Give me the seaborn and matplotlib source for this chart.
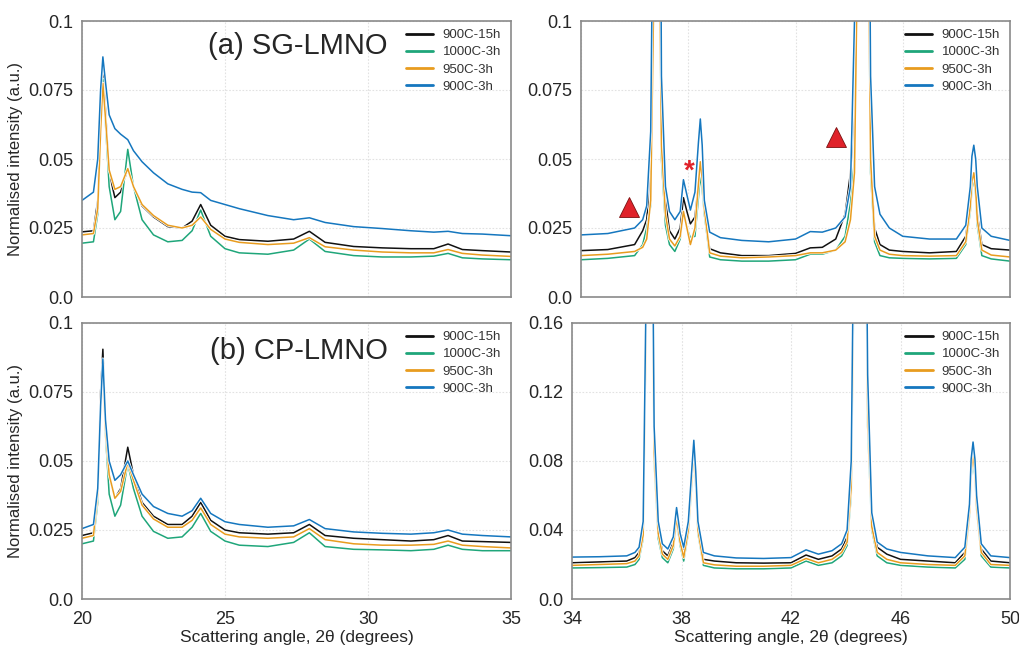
import numpy as np
import pandas as pd
import matplotlib
matplotlib.use("Agg")
import matplotlib.pyplot as plt
import matplotlib.patheffects as pe
import seaborn as sns

# ---------------- data ----------------
series = ["900C-15h", "1000C-3h", "950C-3h", "900C-3h"]
colors = {"900C-15h": "#111111", "1000C-3h": "#1fa67a",
          "950C-3h": "#e89c1f", "900C-3h": "#1577bf"}

x_left = [20.0, 20.4, 20.55, 20.65, 20.73, 20.82, 20.95, 21.15, 21.35, 21.6, 21.8, 22.1,
          22.5, 23.0, 23.5, 23.85, 24.15, 24.5, 25.0, 25.5, 26.5, 27.4, 27.95, 28.5,
          29.5, 30.5, 31.5, 32.3, 32.8, 33.3, 34.0, 35.0]

sg_left_900_15 = [0.0236, 0.024, 0.035, 0.065, 0.085, 0.068, 0.045, 0.036, 0.038, 0.0465, 0.040, 0.033,
                  0.029, 0.0255, 0.025, 0.0275, 0.0335, 0.026, 0.022, 0.0208, 0.0202, 0.021, 0.0238, 0.0198,
                  0.0183, 0.0178, 0.0175, 0.0175, 0.0192, 0.0172, 0.0168, 0.0163]
sg_left_1000_3 = [0.0195, 0.020, 0.030, 0.060, 0.079, 0.063, 0.040, 0.028, 0.031, 0.0535, 0.040, 0.028,
                  0.0225, 0.020, 0.0205, 0.024, 0.0315, 0.022, 0.0175, 0.016, 0.0155, 0.017, 0.021, 0.0165,
                  0.015, 0.0145, 0.0145, 0.0148, 0.0158, 0.0142, 0.0138, 0.0135]
sg_left_950_3 = [0.0225, 0.023, 0.032, 0.060, 0.0775, 0.065, 0.046, 0.039, 0.040, 0.0465, 0.040, 0.0335,
                 0.0295, 0.026, 0.025, 0.026, 0.029, 0.0245, 0.021, 0.0198, 0.019, 0.0195, 0.0215, 0.0182,
                 0.017, 0.0163, 0.016, 0.016, 0.0172, 0.0158, 0.0152, 0.0147]
sg_left_900_3 = [0.035, 0.038, 0.050, 0.075, 0.087, 0.078, 0.066, 0.061, 0.059, 0.057, 0.053, 0.049,
                 0.045, 0.041, 0.039, 0.038, 0.0378, 0.035, 0.0335, 0.032, 0.0295, 0.028, 0.0287, 0.027,
                 0.0255, 0.0248, 0.024, 0.0235, 0.0238, 0.023, 0.0228, 0.0222]

cp_left_900_15 = [0.023, 0.024, 0.040, 0.075, 0.0905, 0.065, 0.045, 0.0365, 0.040, 0.055, 0.045, 0.035,
                  0.030, 0.027, 0.027, 0.030, 0.035, 0.0285, 0.025, 0.024, 0.0235, 0.024, 0.027, 0.023,
                  0.022, 0.0215, 0.021, 0.0215, 0.023, 0.021, 0.0208, 0.0205]
cp_left_1000_3 = [0.020, 0.021, 0.035, 0.070, 0.085, 0.060, 0.038, 0.030, 0.034, 0.049, 0.040, 0.030,
                  0.0245, 0.022, 0.0225, 0.026, 0.031, 0.0245, 0.021, 0.0195, 0.019, 0.0205, 0.024, 0.019,
                  0.018, 0.0178, 0.0175, 0.018, 0.0195, 0.018, 0.0175, 0.0175]
cp_left_950_3 = [0.022, 0.023, 0.038, 0.068, 0.082, 0.062, 0.045, 0.0365, 0.039, 0.0495, 0.043, 0.034,
                 0.029, 0.026, 0.026, 0.0285, 0.033, 0.027, 0.0235, 0.0225, 0.022, 0.0225, 0.0255, 0.0215,
                 0.020, 0.0195, 0.0195, 0.0198, 0.021, 0.0195, 0.019, 0.0185]
cp_left_900_3 = [0.0255, 0.027, 0.040, 0.070, 0.087, 0.065, 0.050, 0.043, 0.045, 0.050, 0.045, 0.038,
                 0.0335, 0.031, 0.030, 0.032, 0.0365, 0.031, 0.028, 0.027, 0.026, 0.0265, 0.0288, 0.0255,
                 0.0243, 0.0238, 0.0235, 0.024, 0.025, 0.0235, 0.023, 0.0225]

x_right = [34.0, 35.0, 36.0, 36.3, 36.45, 36.6, 36.7, 36.8, 36.9, 37.0, 37.15, 37.3,
           37.5, 37.7, 37.82, 37.95, 38.08, 38.25, 38.38, 38.45, 38.52, 38.6, 38.8, 39.2, 40.0, 41.0,
           42.0, 42.55, 43.0, 43.5, 43.85, 44.05, 44.2, 44.35, 44.5, 44.65, 44.8, 44.95,
           45.15, 45.5, 46.0, 47.0, 48.0, 48.35, 48.52, 48.58, 48.65, 48.72, 48.78, 48.95, 49.3, 50.0]

sg_right_900_15 = [0.0168, 0.0172, 0.019, 0.024, 0.028, 0.045, 0.11, 0.5, 0.2, 0.065, 0.035, 0.024,
                   0.021, 0.025, 0.036, 0.031, 0.0265, 0.029, 0.041, 0.047, 0.041, 0.030, 0.0175, 0.016, 0.015, 0.015,
                   0.0158, 0.0178, 0.018, 0.021, 0.030, 0.045, 0.065, 0.2, 0.5, 0.2, 0.05, 0.025,
                   0.019, 0.017, 0.0165, 0.016, 0.0165, 0.022, 0.034, 0.041, 0.044, 0.039, 0.030, 0.019, 0.0175, 0.017]
sg_right_1000_3 = [0.0135, 0.014, 0.015, 0.019, 0.025, 0.033, 0.10, 0.5, 0.15, 0.05, 0.026, 0.019,
                   0.0165, 0.021, 0.031, 0.025, 0.0215, 0.022, 0.036, 0.044, 0.039, 0.030, 0.0145, 0.0135, 0.013, 0.013,
                   0.0135, 0.0155, 0.0155, 0.017, 0.022, 0.034, 0.05, 0.18, 0.5, 0.2, 0.045, 0.020,
                   0.015, 0.0142, 0.014, 0.0138, 0.014, 0.019, 0.031, 0.039, 0.043, 0.037, 0.026, 0.015, 0.0138, 0.013]
sg_right_950_3 = [0.015, 0.0155, 0.0165, 0.018, 0.021, 0.035, 0.10, 0.5, 0.15, 0.055, 0.030, 0.021,
                  0.0185, 0.022, 0.031, 0.025, 0.019, 0.025, 0.041, 0.049, 0.043, 0.032, 0.016, 0.0148, 0.0142, 0.0145,
                  0.015, 0.016, 0.016, 0.017, 0.020, 0.028, 0.045, 0.15, 0.5, 0.2, 0.05, 0.022,
                  0.017, 0.0155, 0.015, 0.0148, 0.015, 0.020, 0.033, 0.042, 0.045, 0.039, 0.028, 0.017, 0.0152, 0.0145]
sg_right_900_3 = [0.0225, 0.023, 0.025, 0.028, 0.033, 0.060, 0.16, 0.6, 0.3, 0.08, 0.040, 0.031,
                  0.028, 0.031, 0.0425, 0.037, 0.0315, 0.038, 0.056, 0.0645, 0.055, 0.035, 0.0235, 0.0215, 0.0205, 0.020,
                  0.021, 0.0237, 0.0235, 0.025, 0.029, 0.040, 0.10, 0.4, 0.6, 0.3, 0.08, 0.040,
                  0.030, 0.025, 0.022, 0.021, 0.021, 0.026, 0.040, 0.051, 0.055, 0.050, 0.040, 0.025, 0.022, 0.0205]

cp_right_900_15 = [0.021, 0.0215, 0.022, 0.024, 0.027, 0.040, 0.16, 0.75, 0.28, 0.09, 0.040, 0.028,
                   0.025, 0.033, 0.050, 0.035, 0.027, 0.042, 0.072, 0.088, 0.070, 0.042, 0.023, 0.022, 0.021, 0.0208,
                   0.021, 0.0255, 0.023, 0.025, 0.029, 0.036, 0.07, 0.28, 0.75, 0.38, 0.12, 0.045,
                   0.030, 0.026, 0.023, 0.022, 0.021, 0.027, 0.052, 0.078, 0.088, 0.078, 0.057, 0.029, 0.022, 0.021]
cp_right_1000_3 = [0.018, 0.0182, 0.0185, 0.020, 0.023, 0.035, 0.15, 0.7, 0.25, 0.08, 0.035, 0.024,
                   0.021, 0.029, 0.045, 0.031, 0.022, 0.038, 0.067, 0.082, 0.065, 0.038, 0.0195, 0.018, 0.0175, 0.0175,
                   0.018, 0.022, 0.0195, 0.021, 0.025, 0.031, 0.06, 0.25, 0.7, 0.35, 0.10, 0.040,
                   0.025, 0.021, 0.0195, 0.0185, 0.018, 0.023, 0.048, 0.071, 0.080, 0.071, 0.052, 0.025, 0.0185, 0.018]
cp_right_950_3 = [0.0195, 0.020, 0.0205, 0.022, 0.025, 0.037, 0.15, 0.7, 0.26, 0.085, 0.038, 0.026,
                  0.023, 0.031, 0.047, 0.033, 0.024, 0.040, 0.070, 0.085, 0.068, 0.040, 0.021, 0.0198, 0.019, 0.019,
                  0.0195, 0.0235, 0.021, 0.023, 0.027, 0.033, 0.065, 0.26, 0.7, 0.36, 0.11, 0.042,
                  0.027, 0.023, 0.021, 0.020, 0.0195, 0.025, 0.050, 0.074, 0.083, 0.074, 0.054, 0.027, 0.020, 0.0195]
cp_right_900_3 = [0.0243, 0.0245, 0.025, 0.027, 0.030, 0.045, 0.17, 0.8, 0.3, 0.10, 0.045, 0.032,
                  0.029, 0.036, 0.053, 0.038, 0.030, 0.045, 0.076, 0.092, 0.074, 0.045, 0.027, 0.025, 0.0238, 0.0235,
                  0.024, 0.0285, 0.026, 0.028, 0.032, 0.040, 0.08, 0.3, 0.8, 0.4, 0.13, 0.050,
                  0.033, 0.029, 0.027, 0.025, 0.024, 0.030, 0.055, 0.081, 0.091, 0.081, 0.060, 0.032, 0.025, 0.024]

# annotation marks on the SG high-angle panel
triangle_marks = [(35.8, 0.0326), (43.5, 0.0578)]
star_mark = (38.05, 0.0455)

panels = [
    dict(x=x_left, ys=[sg_left_900_15, sg_left_1000_3, sg_left_950_3, sg_left_900_3],
         rect=[82, 21, 511, 297], xlim=(20, 35), xticks=[20, 25, 30, 35],
         ylim=(0, 0.1), yticks=[0.0, 0.025, 0.05, 0.075, 0.1],
         ylabels=["0.0", "0.025", "0.05", "0.075", "0.1"], title="(a) SG-LMNO", bottom=False, left=True),
    dict(x=x_right, ys=[sg_right_900_15, sg_right_1000_3, sg_right_950_3, sg_right_900_3],
         rect=[581, 21, 1010, 297], xlim=(34, 50), xticks=[34, 38, 42, 46, 50],
         ylim=(0, 0.1), yticks=[0.0, 0.025, 0.05, 0.075, 0.1],
         ylabels=["0.0", "0.025", "0.05", "0.075", "0.1"], title=None, bottom=False, left=False),
    dict(x=x_left, ys=[cp_left_900_15, cp_left_1000_3, cp_left_950_3, cp_left_900_3],
         rect=[82, 323, 511, 599], xlim=(20, 35), xticks=[20, 25, 30, 35],
         ylim=(0, 0.1), yticks=[0.0, 0.025, 0.05, 0.075, 0.1],
         ylabels=["0.0", "0.025", "0.05", "0.075", "0.1"], title="(b) CP-LMNO", bottom=True, left=True),
    dict(x=x_right, ys=[cp_right_900_15, cp_right_1000_3, cp_right_950_3, cp_right_900_3],
         rect=[572, 323, 1010, 599], xlim=(34, 50), xticks=[34, 38, 42, 46, 50],
         ylim=(0, 0.16), yticks=[0.0, 0.04, 0.08, 0.12, 0.16],
         ylabels=["0.0", "0.04", "0.08", "0.12", "0.16"], title=None, bottom=True, left=False),
]

# ---------------- style ----------------
sns.set_theme(style="white")
plt.rcParams["font.family"] = ["Liberation Sans", "DejaVu Sans"]

W, H = 1019, 649
fig = plt.figure(figsize=(W / 100, H / 100), dpi=100)
spine_col = "#8a8a8a"

for i, p in enumerate(panels):
    for ys in p["ys"]:
        assert len(ys) == len(p["x"])
    l, t, r, b = p["rect"]
    ax = fig.add_axes([l / W, 1 - b / H, (r - l) / W, (b - t) / H])
    df = pd.DataFrame({"angle": np.tile(p["x"], 4),
                       "intensity": np.concatenate(p["ys"]),
                       "sample": np.repeat(series, len(p["x"]))})
    sns.lineplot(data=df, x="angle", y="intensity", hue="sample", hue_order=series,
                 palette=colors, ax=ax, sort=False, estimator=None, linewidth=1.1,
                 legend=True)
    for ln in ax.get_lines():
        ln.set_path_effects([pe.Stroke(linewidth=2.1, foreground="white"), pe.Normal()])
    ax.set_xlim(*p["xlim"])
    ax.set_ylim(*p["ylim"])
    ax.set_xticks(p["xticks"])
    ax.set_yticks(p["yticks"])
    ax.set_yticklabels(p["ylabels"])
    ax.grid(True, color="#e2e2e2", linestyle=(0, (1.5, 1.5)), linewidth=0.8)
    for s in ax.spines.values():
        s.set_color(spine_col)
        s.set_linewidth(1.2)
    ax.tick_params(axis="x", direction="out", length=5, width=1.0, color=spine_col,
                   labelsize=13, pad=4, labelbottom=p["bottom"])
    ax.tick_params(axis="y", length=0, labelsize=13, pad=6)
    ax.set_xlabel("Scattering angle, 2θ (degrees)" if p["bottom"] else "", fontsize=12.5, labelpad=1)
    ax.set_ylabel("Normalised intensity (a.u.)" if p["left"] else "", fontsize=12, labelpad=4)
    if p["title"]:
        ax.text(0.713, 0.91 if i == 0 else 0.90, p["title"], transform=ax.transAxes,
                ha="right", va="center", fontsize=21)
    leg_x = 0.742 if i < 3 else 0.748
    leg = ax.legend(loc="upper left", bbox_to_anchor=(leg_x, 0.99), frameon=False,
                    fontsize=9.5, handlelength=2.1, handletextpad=0.7, labelspacing=0.37,
                    borderaxespad=0.0)
    for txt in leg.get_texts():
        txt.set_color("#333333")
    for h in leg.legend_handles:
        h.set_linewidth(2.0)
        h.set_path_effects([])
    if i == 1:
        tx, ty = zip(*triangle_marks)
        ax.plot(tx, ty, linestyle="none", marker="^", markersize=15,
                markerfacecolor="#e0222a", markeredgecolor="#7a1010", markeredgewidth=0.6, zorder=5)
        ax.text(star_mark[0], star_mark[1], "*", color="#e0222a", fontsize=20,
                fontweight="bold", ha="center", va="center", zorder=5)

fig.savefig("out.png", dpi=100)
